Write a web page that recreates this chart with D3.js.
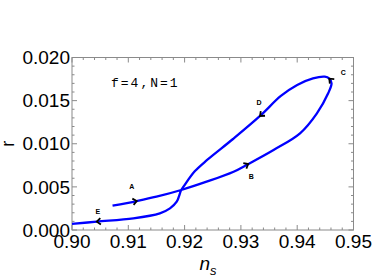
<!DOCTYPE html>
<html>
<head>
<meta charset="utf-8">
<script src="https://cdn.jsdelivr.net/npm/d3@7"></script>
<style>
  body { margin: 0; background: #fff; }
  svg { display: block; }
  .tick-label { font-family: "Liberation Sans", Arial, sans-serif; font-size: 19px; fill: #000; }
  .frame { fill: none; stroke: #8a8a8a; stroke-width: 1; }
  .tick { stroke: #8a8a8a; stroke-width: 1; }
  .curve { fill: none; stroke: #0000ff; stroke-width: 2.3; }
  .arrow { fill: none; stroke: #000; stroke-width: 1.8; }
  .point-label { font-family: "Liberation Sans", Arial, sans-serif; font-size: 7px; font-weight: bold; }
</style>
</head>
<body>
<svg class="chart" width="374" height="280"></svg>
<script>
// trajectory in the (n_s, r) plane, in order A -> B -> C -> D -> E
const nsValues = [0.9072, 0.9115, 0.9150, 0.9194, 0.9239, 0.9287, 0.9313, 0.9358, 0.9405, 0.9435,
                  0.9455, 0.9461, 0.9457, 0.9449, 0.9428, 0.9400, 0.9371, 0.9334, 0.9286, 0.9240,
                  0.9218, 0.9198, 0.9194, 0.9186, 0.9174, 0.9156, 0.9109, 0.9044, 0.9000];
const rValues = [0.00282, 0.00336, 0.00386, 0.00464, 0.00560, 0.00676, 0.00765, 0.00928, 0.01121, 0.01353,
                 0.01585, 0.01701, 0.01755, 0.01777, 0.01757, 0.01681, 0.01554, 0.01322, 0.01055, 0.00812,
                 0.00680, 0.00502, 0.00464, 0.00328, 0.00251, 0.00193, 0.00135, 0.00097, 0.00070];

const arrowLabels = ["A", "B", "C", "D", "E"];
const arrowIndex = [1, 6, 12, 17, 27];

const xTicks = [0.90, 0.91, 0.92, 0.93, 0.94, 0.95];
const yTicks = [0.000, 0.005, 0.010, 0.015, 0.020];
const annotation = "f=4,N=1";

// layout
const PLOT = {left: 72, right: 353.5, top: 57.5, bottom: 230};
const LABEL_OFFSET = {A: [-5, -14], B: [3, 13], C: [14, -6], D: [-1, -13], E: [1, -10]};
const ARROW_SIZE = 5;

const svg = d3.select("svg.chart");

const x = d3.scaleLinear().domain([0.90, 0.95]).range([PLOT.left, PLOT.right]);
const y = d3.scaleLinear().domain([0, 0.02]).range([PLOT.bottom, PLOT.top]);

// frame
svg.append("rect")
    .attr("class", "frame")
    .attr("x", PLOT.left).attr("y", PLOT.top)
    .attr("width", PLOT.right - PLOT.left)
    .attr("height", PLOT.bottom - PLOT.top);

// inward ticks on all four sides, majors plus 4 minors between
const xMinor = d3.range(0, 26).map(i => 0.90 + i * 0.002);
const yMinor = d3.range(0, 21).map(i => i * 0.001);
const isMajor = (v, step) => Math.abs(v / step - Math.round(v / step)) < 1e-6;

const ticks = svg.append("g");
xMinor.forEach(v => {
    const len = isMajor(v, 0.01) ? 5 : 2.5;
    ticks.append("line").attr("class", "tick")
        .attr("x1", x(v)).attr("x2", x(v))
        .attr("y1", PLOT.bottom).attr("y2", PLOT.bottom - len);
    ticks.append("line").attr("class", "tick")
        .attr("x1", x(v)).attr("x2", x(v))
        .attr("y1", PLOT.top).attr("y2", PLOT.top + len);
});
yMinor.forEach(v => {
    const len = isMajor(v, 0.005) ? 5 : 2.5;
    ticks.append("line").attr("class", "tick")
        .attr("x1", PLOT.left).attr("x2", PLOT.left + len)
        .attr("y1", y(v)).attr("y2", y(v));
    ticks.append("line").attr("class", "tick")
        .attr("x1", PLOT.right).attr("x2", PLOT.right - len)
        .attr("y1", y(v)).attr("y2", y(v));
});

// tick labels
svg.append("g").selectAll("text")
    .data(xTicks).enter().append("text")
    .attr("class", "tick-label")
    .attr("x", d => x(d))
    .attr("y", PLOT.bottom + 18)
    .attr("text-anchor", "middle")
    .text(d => d3.format(".2f")(d));

svg.append("g").selectAll("text")
    .data(yTicks).enter().append("text")
    .attr("class", "tick-label")
    .attr("x", PLOT.left - 2)
    .attr("y", d => y(d))
    .attr("dy", "0.35em")
    .attr("text-anchor", "end")
    .text(d => d3.format(".3f")(d));

// axis titles
svg.append("text")
    .attr("class", "tick-label")
    .style("font-size", "18px")
    .attr("transform", `translate(14,${(PLOT.top + PLOT.bottom) / 2}) rotate(-90)`)
    .attr("text-anchor", "middle")
    .text("r");

const xt = svg.append("text")
    .attr("class", "tick-label")
    .attr("x", 208).attr("y", 270)
    .attr("text-anchor", "middle")
    .style("font-style", "italic");
xt.append("tspan").text("n");
xt.append("tspan").attr("dy", 5).style("font-size", "13px").text("s");

// annotation
svg.append("text")
    .attr("x", 111).attr("y", 87)
    .style("font-family", "'Liberation Mono', 'DejaVu Sans Mono', monospace")
    .style("font-size", "13px")
    .style("letter-spacing", "2px")
    .text(annotation);

// trajectory
const points = nsValues.map((v, i) => [v, rValues[i]]);
svg.append("path")
    .datum(points)
    .attr("class", "curve")
    .attr("d", d3.line().x(d => x(d[0])).y(d => y(d[1])).curve(d3.curveCatmullRom.alpha(0.5)));

// chevron arrows along the direction of motion
arrowIndex.forEach((idx, k) => {
    const p = [x(points[idx][0]), y(points[idx][1])];
    const a = [x(points[idx - 1][0]), y(points[idx - 1][1])];
    const b = [x(points[Math.min(idx + 1, points.length - 1)][0]), y(points[Math.min(idx + 1, points.length - 1)][1])];
    const ang = Math.atan2(b[1] - a[1], b[0] - a[0]);
    const wing = Math.PI * 0.78;
    const w1 = [p[0] + ARROW_SIZE * Math.cos(ang + wing), p[1] + ARROW_SIZE * Math.sin(ang + wing)];
    const w2 = [p[0] + ARROW_SIZE * Math.cos(ang - wing), p[1] + ARROW_SIZE * Math.sin(ang - wing)];
    svg.append("path")
        .attr("class", "arrow")
        .attr("d", `M${w1[0]},${w1[1]}L${p[0]},${p[1]}L${w2[0]},${w2[1]}`);
    const off = LABEL_OFFSET[arrowLabels[k]];
    svg.append("text")
        .attr("class", "point-label")
        .attr("x", p[0] + off[0]).attr("y", p[1] + off[1])
        .attr("text-anchor", "middle")
        .attr("dy", "0.35em")
        .text(arrowLabels[k]);
});
</script>
</body>
</html>
